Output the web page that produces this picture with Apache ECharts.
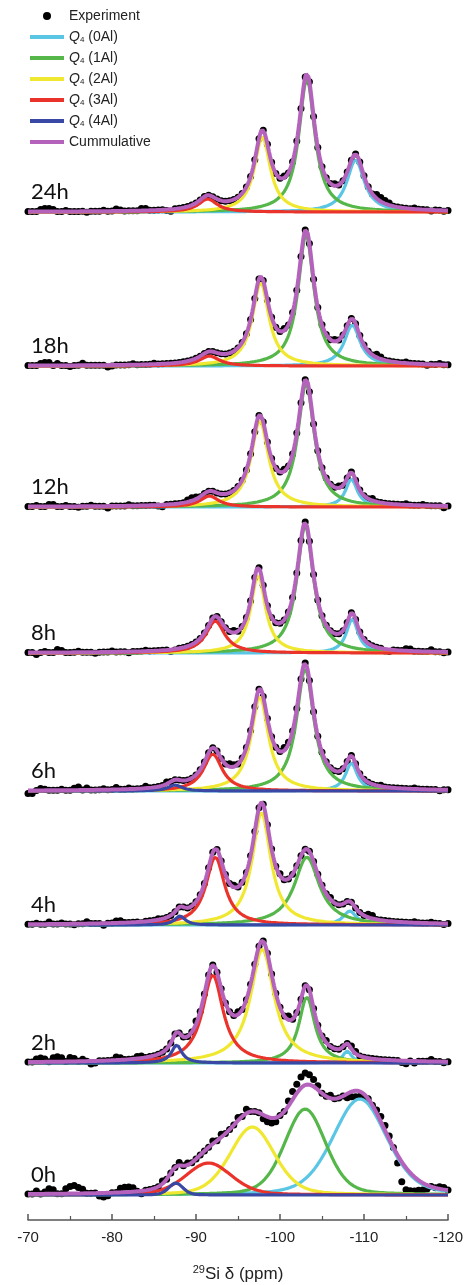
<!DOCTYPE html>
<html>
<head>
<meta charset="utf-8">
<script src="https://cdn.jsdelivr.net/npm/echarts@6/dist/echarts.min.js"></script>
<style>
html, body { margin: 0; padding: 0; background: #fff; }
#graph { width: 468px; height: 1285px; }
</style>
</head>
<body>
<div id="graph"></div>
<script>
// panels, top to bottom
var panels = ['24h', '18h', '12h', '8h', '6h', '4h', '2h', '0h'];
var compNames = ['Q4 (0Al)', 'Q4 (1Al)', 'Q4 (2Al)', 'Q4 (3Al)', 'Q4 (4Al)'];
var compColors = ['#5BC6E4', '#55B64A', '#F0E830', '#EA332B', '#3848A4'];
var cumColor = '#B462BC';

// fitted peaks per panel: [centre ppm, height, fwhm ppm], order 0Al..4Al
var fit24h = [[-109.0, 52, 2.5], [-103.2, 133, 2.3], [-97.9, 75, 2.3], [-91.4, 13, 2.7], null];
var fit18h = [[-108.6, 41, 2.3], [-103.1, 131, 2.3], [-97.7, 83, 2.4], [-91.6, 10, 2.9], null];
var fit12h = [[-108.5, 28, 1.7], [-103.1, 123, 2.4], [-97.6, 86, 2.5], [-91.6, 11, 2.7], null];
var fit8h  = [[-108.6, 34, 1.7], [-103.0, 127, 2.4], [-97.4, 78, 2.1], [-92.3, 32, 2.7], null];
var fit6h  = [[-108.5, 28, 1.7], [-103.0, 122, 2.5], [-97.6, 94, 2.5], [-92.0, 37, 2.7], [-87.5, 6, 2.0]];
var fit4h  = [[-108.3, 14, 1.9], [-103.2, 68, 3.6], [-97.8, 112, 2.7], [-92.3, 68, 2.7], [-88.1, 9, 1.5]];
var fit2h  = [[-108.0, 12, 1.3], [-103.2, 66, 2.3], [-97.9, 114, 3.4], [-92.0, 88, 3.0], [-87.7, 18, 1.5]];
var fit0h  = [[-109.5, 96, 7.6], [-103.0, 86, 5.8], [-96.7, 68, 6.3], [-91.5, 32, 6.5], [-87.6, 12, 2.0]];
// lorentzian fraction of the line shape
var lorentzFrac = [1, 1, 1, 1, 1, 1, 1, 0.3];

// experiment deviations from the fit: [ppm, delta]
var noise24h = [[-71.5, 2], [-72, 3], [-72.5, 3], [-73, 2], [-74.5, 1], [-77, -1], [-79, 1], [-80.5, 2], [-81, 1], [-83.5, 2], [-84, 2], [-86.5, -1], [-87, -2], [-100.5, 2], [-106.5, 2], [-111.5, 4], [-112, 4], [-112.5, 3], [-113, 2], [-116, 1], [-118, -1], [-119.5, -1]];
var noise18h = [[-71.5, 2], [-72, 3], [-72.5, 3], [-73.5, 2], [-75, -1], [-76.5, 2], [-79.5, -2], [-80, -1], [-82.5, 1], [-85, 1], [-100.5, 2], [-106.5, 2], [-111.5, 3], [-112, 2], [-115, 1], [-117.5, -1], [-119, 1]];
var noise12h = [[-71, 1], [-72.5, 2], [-73, 2], [-74.5, 1], [-76, -1], [-77.5, 1], [-79.5, -2], [-82, 1], [-85.5, -1], [-86, -2], [-89, 2], [-89.5, 3], [-90, 2], [-100.5, 2], [-107, 2], [-111, 2], [-115, 1], [-117, 1], [-119.5, -2]];
var noise8h = [[-71, -2], [-72, 1], [-73.5, 3], [-74, 2], [-76, 1], [-78, -1], [-80, 1], [-82, -1], [-84, 1], [-87, -2], [-87.5, -1], [-94.5, 2], [-112.5, -2], [-113, -2], [-115, 2], [-115.5, 2], [-118, 2], [-119.5, -1]];
var noise6h = [[-70, -3], [-70.5, -3], [-71.5, 2], [-72, 1], [-74, 1], [-75.5, 2], [-76, 3], [-77, 2], [-79, 1], [-80.5, 2], [-82, 1], [-84, 2], [-86.5, 2], [-94, 3], [-94.5, 2], [-100.5, 3], [-101, 2], [-112, 1], [-116, 1], [-119, -1]];
var noise4h = [[-71, 1], [-72.5, 2], [-74, 1], [-75.5, -1], [-77, 2], [-79, -2], [-80.5, 2], [-81, 2], [-83.5, -1], [-85.5, 1], [-94.5, 2], [-100, 2], [-106, 2], [-110.5, 3], [-111, 3], [-116, 1], [-118, 1], [-119.5, -1]];
var noise2h = [[-71, 3], [-71.5, 4], [-72, 3], [-73, 4], [-73.5, 5], [-74, 4], [-75, 4], [-75.5, 3], [-76.5, 2], [-77.5, -3], [-78, -2], [-80.5, 3], [-81, 2], [-83, 2], [-83.5, 2], [-90, 3], [-95, 3], [-101, 4], [-105.5, 2], [-108.5, 3], [-109, 2], [-114.5, -2], [-115, -3], [-116, -2], [-118, 2], [-119.5, -1]];
var noise0h = [[-71, 3], [-72, 2], [-72.5, 5], [-73, 4], [-74.5, 5], [-75, 7], [-75.5, 8], [-76, 6], [-76.5, 4], [-78.5, -3], [-79, -4], [-79.5, -3], [-81, 4], [-81.5, 5], [-82, 5], [-82.5, 4], [-83.5, -3], [-86, 3], [-88, 3], [-89, 2], [-92, 3], [-93, 3], [-95, 3], [-96, 4], [-98, -4], [-98.5, -5], [-99, -5], [-99.5, -4], [-101, 5], [-101.5, 8], [-102, 9], [-102.5, 11], [-103, 12], [-103.5, 10], [-104, 7], [-104.5, 4], [-106, 3], [-108, -4], [-108.5, -5], [-109, -6], [-109.5, -5], [-110, -3], [-111.5, 3], [-112, 5], [-112.5, 5], [-113, 3], [-114, -8], [-114.5, -20], [-115, -22], [-115.5, -18], [-116, -14], [-116.5, -10], [-117, -7], [-117.5, -4], [-119, 2], [-119.5, 2]];

var fits = [fit24h, fit18h, fit12h, fit8h, fit6h, fit4h, fit2h, fit0h];
var noises = [noise24h, noise18h, noise12h, noise8h, noise6h, noise4h, noise2h, noise0h];

// layout: baseline of each panel (px)
var panelBase = [212, 366, 507, 653, 791, 925, 1063, 1195];

function peakAt(x, p, eta) {
    var d = (x - p[0]) / (p[2] / 2);
    var lor = 1 / (1 + d * d);
    var gau = Math.exp(-Math.LN2 * d * d);
    return p[1] * (eta * lor + (1 - eta) * gau);
}

function fitAt(x, peaks, eta) {
    var s = 0;
    peaks.forEach(function (p) { if (p) s += peakAt(x, p, eta); });
    return s;
}

var grids = [], xAxes = [], yAxes = [], series = [], graphics = [];

panels.forEach(function (label, i) {
    var peaks = fits[i], eta = lorentzFrac[i];
    grids.push({ left: 28, right: 20, top: panelBase[i] - 140, height: 150 });
    xAxes.push({ gridIndex: i, type: 'value', min: -120, max: -70, inverse: true, show: false });
    yAxes.push({ gridIndex: i, type: 'value', min: -10, max: 140, show: false });

    var dev = {};
    noises[i].forEach(function (n) { dev[n[0].toFixed(1)] = n[1]; });

    // experiment dots every 0.5 ppm
    var expPts = [];
    for (var k = 0; k <= 100; k++) {
        var x = -70 - k / 2;
        var dy = dev[x.toFixed(1)] || 0;
        expPts.push([x, fitAt(x, peaks, eta) + dy]);
    }
    series.push({
        name: 'Experiment', type: 'scatter', xAxisIndex: i, yAxisIndex: i,
        data: expPts, symbolSize: 7, clip: false,
        itemStyle: { color: '#000', opacity: 1 }
    });

    peaks.forEach(function (p, c) {
        if (!p) return;
        var pts = [];
        for (var k = 0; k <= 500; k++) {
            var x = -70 - k / 10;
            pts.push([x, peakAt(x, p, eta)]);
        }
        series.push({
            name: compNames[c], type: 'line', xAxisIndex: i, yAxisIndex: i,
            data: pts, showSymbol: false, clip: false,
            color: compColors[c],
            itemStyle: { color: compColors[c] },
            lineStyle: { color: compColors[c], width: 3.2 }
        });
    });

    var cum = [];
    for (var k = 0; k <= 500; k++) {
        var x = -70 - k / 10;
        cum.push([x, fitAt(x, peaks, eta)]);
    }
    series.push({
        name: 'Cummulative', type: 'line', xAxisIndex: i, yAxisIndex: i,
        data: cum, showSymbol: false, clip: false,
        color: cumColor,
        itemStyle: { color: cumColor },
        lineStyle: { color: cumColor, width: 4 }
    });

    graphics.push({
        type: 'text', left: 31, top: panelBase[i] - 31,
        style: { text: label, font: '22px Lato', fill: '#111' }
    });
});

// bottom axis
grids.push({ left: 28, right: 20, top: 1100, height: 120 });
xAxes.push({
    gridIndex: 8, type: 'value', min: -120, max: -70, interval: 10, inverse: true,
    axisLine: { show: true, onZero: false, lineStyle: { color: '#555', width: 1.5 } },
    axisTick: { show: true, inside: true, length: 6, lineStyle: { color: '#555', width: 1.5 } },
    minorTick: { show: true, splitNumber: 2, length: 4, lineStyle: { color: '#555', width: 1.2 } },
    splitLine: { show: false },
    axisLabel: { fontSize: 15, color: '#222', fontFamily: 'Liberation Sans', margin: 10 },
    name: '{sup|29}Si \u03b4 (ppm)',
    nameLocation: 'middle', nameGap: 44,
    nameTextStyle: {
        fontSize: 17, color: '#222', fontFamily: 'Liberation Sans', lineHeight: 20,
        rich: { sup: { fontSize: 11, color: '#222', fontFamily: 'Liberation Sans', verticalAlign: 'top', lineHeight: 20 } }
    }
});
yAxes.push({ gridIndex: 8, type: 'value', min: 0, max: 1, show: false });

var lineIcon = 'path://M0,0H34V4H0Z';
var legendData = [{ name: 'Experiment', icon: 'circle' }];
compNames.forEach(function (n) { legendData.push({ name: n, icon: lineIcon }); });
legendData.push({ name: 'Cummulative', icon: lineIcon });

var option = {
    animation: false,
    backgroundColor: '#fff',
    legend: {
        left: 30, top: 9, orient: 'vertical', padding: 0,
        itemWidth: 34, itemHeight: 8, itemGap: 7,
        selectedMode: false,
        data: legendData,
        formatter: function (n) { return n.replace('Q4', '{q|Q}{s|4}'); },
        textStyle: {
            fontFamily: 'Liberation Sans', fontSize: 14, color: '#222', lineHeight: 14,
            rich: {
                q: { fontFamily: 'Liberation Sans', fontSize: 14, fontStyle: 'italic', color: '#222', lineHeight: 14 },
                s: { fontFamily: 'Liberation Sans', fontSize: 8, color: '#222', verticalAlign: 'bottom', lineHeight: 14 }
            }
        }
    },
    grid: grids,
    xAxis: xAxes,
    yAxis: yAxes,
    series: series,
    graphic: graphics
};

var chart = echarts.init(document.getElementById('graph'));
chart.setOption(option);
</script>
</body>
</html>
